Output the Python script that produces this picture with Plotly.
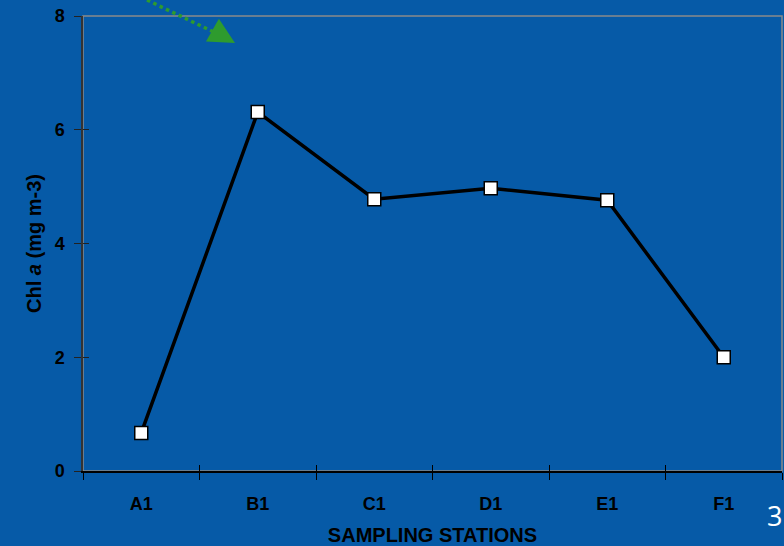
import plotly.graph_objects as go

# Chlorophyll a at each sampling station
stations = ["A1", "B1", "C1", "D1", "E1", "F1"]
chl_a = [0.67, 6.31, 4.78, 4.97, 4.76, 2.0]
y_ticks = [0, 2, 4, 6, 8]

BG = "#065AA7"
FONT = "Arial, Liberation Sans, sans-serif"

fig = go.Figure()

fig.add_trace(go.Scatter(
    x=stations, y=chl_a, mode="lines+markers",
    line=dict(color="black", width=3.5),
    marker=dict(symbol="square", size=13, color="white",
                line=dict(color="black", width=1.5)),
    showlegend=False, hoverinfo="skip",
))
# empty trace so the overlay axes (inner tick halves) get drawn
fig.add_trace(go.Scatter(x=[None], y=[None], xaxis="x2", yaxis="y2",
                         showlegend=False, hoverinfo="skip"))

fig.update_layout(
    width=784, height=546,
    margin=dict(l=83, r=2, t=16, b=75),
    paper_bgcolor=BG, plot_bgcolor=BG,
    font=dict(family=FONT, color="black"),
    xaxis=dict(
        type="category", categoryarray=stations, range=[-0.5, 5.5],
        tickson="boundaries", ticks="outside", ticklen=7, tickwidth=1,
        tickcolor="black", showline=True, linecolor="black", linewidth=1.5,
        showgrid=False, zeroline=False, automargin=False,
        tickfont=dict(size=18, family=FONT, weight="bold"),
        ticklabelstandoff=16,
        title=dict(text="SAMPLING STATIONS", standoff=22,
                   font=dict(size=20, family=FONT, weight="bold")),
    ),
    yaxis=dict(
        range=[0, 8], tickvals=y_ticks, ticks="outside", ticklen=7,
        tickwidth=1, tickcolor="#222", showline=True, linecolor="#333",
        linewidth=1.5, showgrid=False, zeroline=False, automargin=False,
        tickfont=dict(size=18, family=FONT, weight="bold"),
        ticklabelstandoff=6,
        title=dict(text="Chl <i>a</i> (mg m-3)", standoff=8,
                   font=dict(size=20, family=FONT, weight="bold")),
    ),
    # inner halves of the crossing tick marks
    xaxis2=dict(overlaying="x", anchor="y", side="bottom", range=[-0.5, 5.5],
                tick0=-0.5, dtick=1, ticks="inside", ticklen=6, tickwidth=1,
                tickcolor="black", showticklabels=False, showline=False,
                showgrid=False, zeroline=False, automargin=False),
    yaxis2=dict(overlaying="y", anchor="x", side="left", range=[0, 8],
                tickvals=y_ticks, ticks="inside", ticklen=6, tickwidth=1,
                tickcolor="#222", showticklabels=False, showline=False,
                showgrid=False, zeroline=False, automargin=False),
)

# grey frame on the top and right of the plot area
fig.add_shape(type="rect", xref="paper", yref="paper", x0=0, x1=1, y0=0, y1=1,
              line=dict(color="#8a8a8a", width=1.5), layer="below")

# dotted green pointer entering from the top edge
fig.add_shape(type="line", xref="paper", yref="paper",
              x0=(147 - 83) / 699, y0=(471 - 0) / 455,
              x1=(222 - 83) / 699, y1=(471 - 36) / 455,
              line=dict(color="#2E9B2E", width=3.5, dash="dot"))
fig.add_annotation(xref="paper", yref="paper",
                   x=(235 - 83) / 699, y=(471 - 43) / 455,
                   ax=-14, ay=-8, text="", showarrow=True,
                   arrowhead=2, arrowsize=1.3, arrowwidth=4,
                   arrowcolor="#2E9B2E")

# slide number
fig.add_annotation(xref="paper", yref="paper", x=(765 - 83) / 699,
                   y=(471 - 515) / 455, xanchor="left", yanchor="middle",
                   text="3", showarrow=False,
                   font=dict(size=27, color="white", family="Open Sans"))

fig.write_html("out.html")
